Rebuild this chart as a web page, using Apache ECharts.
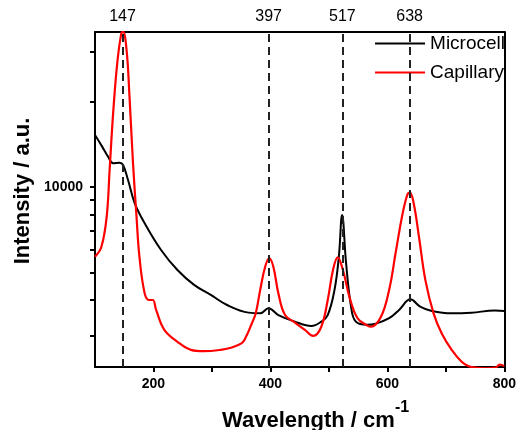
<!DOCTYPE html>
<html>
<head>
<meta charset="utf-8">
<script src="https://cdn.jsdelivr.net/npm/echarts@6/dist/echarts.min.js"></script>
<style>
html, body { margin: 0; padding: 0; background: #fff; }
#chart { width: 519px; height: 430px; }
</style>
</head>
<body>
<div id="chart"></div>
<script>
// Raman spectra, intensity (log y axis)
const microcellWave = [100, 112, 122.5, 131, 142, 148, 156.5, 168, 185, 213, 241, 269.5, 298, 326, 362.7, 382.5, 396.6, 413.6, 441.9, 470, 487, 498, 509.6, 517, 522.6, 529.4, 537.8, 546, 566, 580, 603, 620, 639.5, 656, 676, 710, 744, 783.6, 800];
const microcellIntensity = [15240, 13900, 12780, 12120, 12180, 11950, 10580, 8760, 7450, 6000, 5100, 4520, 4170, 3840, 3610, 3590, 3740, 3540, 3355, 3240, 3355, 3540, 4340, 5680, 7970, 5390, 3800, 3355, 3270, 3300, 3450, 3690, 4020, 3790, 3660, 3590, 3610, 3670, 3660];

const capillaryWave = [100, 111, 120, 125, 131, 138, 145, 148, 154, 159, 165, 171, 176, 185, 193, 199, 204.5, 218.6, 241, 264, 286, 315, 334, 351, 357, 368, 375, 382.5, 391, 398, 405, 413.6, 425, 442, 459, 473, 487, 498, 507, 515, 524, 535, 549, 566, 572, 589, 603, 614, 625, 634, 638.5, 645, 654, 665, 679, 693, 710, 727, 738, 750, 770, 785, 792, 800];
const capillaryIntensity = [5680, 6160, 7860, 11480, 18170, 27270, 34760, 35200, 30370, 20800, 12120, 7860, 5680, 4220, 4000, 4000, 3690, 3140, 2850, 2670, 2640, 2670, 2720, 2820, 2930, 3300, 3600, 4340, 5240, 5610, 5240, 4220, 3540, 3330, 3140, 2990, 3220, 4000, 5100, 5655, 5100, 4110, 3450, 3250, 3220, 3490, 4340, 5840, 7860, 9370, 9550, 8760, 6680, 4700, 3590, 3050, 2670, 2425, 2344, 2310, 2300, 2310, 2370, 2340];

const peakPositions = [147, 397, 523, 638];
const peakLabels = ['147', '397', '517', '638'];
const xTickValues = [200, 300, 400, 500, 600, 700, 800];
const xLabelValues = [200, 400, 600, 800];
const yTickValues = [3000, 4000, 5000, 6000, 7000, 8000, 9000, 10000, 20000, 30000];
const yLabelValues = [10000];
const yMin = 2323;
const yMax = 35140;

const log = Math.log10;
const toPairs = (w, v) => w.map((x, i) => [x, log(v[i])]);
const FONT = '"Liberation Sans", Arial, sans-serif';
const axisLine = { show: true, onZero: false, lineStyle: { color: '#000', width: 2 } };

const chart = echarts.init(document.getElementById('chart'));
const option = {
  animation: false,
  textStyle: { fontFamily: FONT },
  grid: { left: 95, right: 11, top: 32, bottom: 63 },
  legend: {
    data: ['Microcell', 'Capillary'],
    orient: 'vertical',
    right: 14,
    top: 34,
    padding: 0,
    icon: 'rect',
    itemWidth: 50,
    itemHeight: 2,
    itemGap: 10,
    textStyle: { fontSize: 19, color: '#000', fontFamily: FONT }
  },
  xAxis: [
    {
      type: 'value', position: 'bottom', min: 100, max: 800,
      axisLine: axisLine,
      splitLine: { show: false },
      axisTick: { show: true, customValues: xTickValues, length: 5, lineStyle: { color: '#000', width: 2 } },
      axisLabel: { customValues: xLabelValues, fontWeight: 'bold', fontSize: 14, margin: 10, color: '#000', fontFamily: FONT }
    },
    {
      type: 'value', position: 'top', min: 100, max: 800,
      axisLine: axisLine,
      splitLine: { show: false },
      axisTick: { show: false },
      axisLabel: {
        customValues: peakPositions,
        formatter: v => peakLabels[peakPositions.indexOf(v)],
        fontSize: 16, margin: 7, color: '#000', fontFamily: FONT
      }
    }
  ],
  yAxis: [
    {
      type: 'value', position: 'left', min: log(yMin), max: log(yMax),
      axisLine: axisLine,
      splitLine: { show: false },
      axisTick: { show: true, customValues: yTickValues.map(log), length: 5, lineStyle: { color: '#000', width: 2 } },
      axisLabel: {
        customValues: yLabelValues.map(log),
        formatter: v => String(Math.round(Math.pow(10, v))),
        fontWeight: 'bold', fontSize: 14, margin: 12, color: '#000', fontFamily: FONT
      }
    },
    {
      type: 'value', position: 'right', min: log(yMin), max: log(yMax),
      axisLine: axisLine,
      splitLine: { show: false },
      axisTick: { show: false },
      axisLabel: { show: false }
    }
  ],
  series: [
    {
      name: 'Microcell',
      type: 'line',
      data: toPairs(microcellWave, microcellIntensity),
      symbol: 'none',
      smooth: 0.4,
      lineStyle: { color: '#000', width: 2 },
      itemStyle: { color: '#000' },
      markLine: {
        silent: true,
        symbol: ['none', 'none'],
        label: { show: false },
        lineStyle: { type: [8, 5], color: '#222', width: 2 },
        emphasis: { disabled: true },
        data: peakPositions.map(x => ({ xAxis: x }))
      }
    },
    {
      name: 'Capillary',
      type: 'line',
      data: toPairs(capillaryWave, capillaryIntensity),
      symbol: 'none',
      smooth: 0.4,
      lineStyle: { color: '#ff0000', width: 2.2 },
      itemStyle: { color: '#ff0000' }
    }
  ],
  graphic: [
    {
      type: 'text', x: 23, y: 191, rotation: Math.PI / 2,
      style: { text: 'Intensity / a.u.', font: 'bold 22px ' + FONT, fill: '#000', align: 'center', verticalAlign: 'middle' }
    },
    {
      type: 'text', x: 222, y: 421,
      style: { text: 'Wavelength / cm', font: 'bold 22px ' + FONT, fill: '#000', align: 'left', verticalAlign: 'middle' }
    },
    {
      type: 'text', x: 395, y: 408,
      style: { text: '-1', font: 'bold 16px ' + FONT, fill: '#000', align: 'left', verticalAlign: 'middle' }
    }
  ]
};
chart.setOption(option);
</script>
</body>
</html>
